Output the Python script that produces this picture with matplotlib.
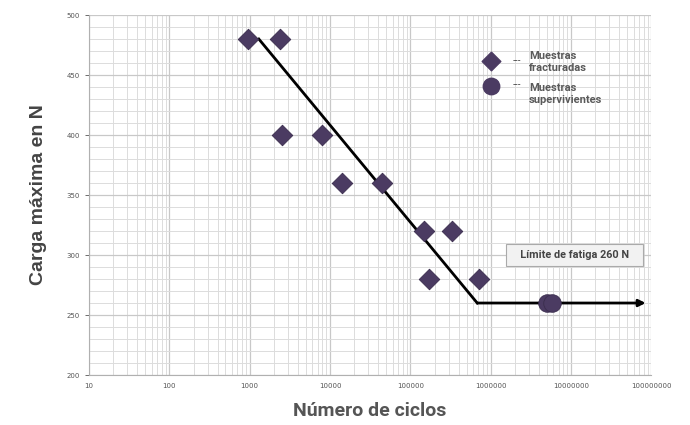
import matplotlib
matplotlib.use("Agg")
import matplotlib.pyplot as plt
import numpy as np
from matplotlib.ticker import LogLocator, FixedLocator, NullFormatter, FuncFormatter

# data
frac_cycles = [950, 2400, 2500, 8000, 14000, 44000, 150000, 330000, 170000, 720000]
frac_load = [480, 480, 400, 400, 360, 360, 320, 320, 280, 280]
surv_cycles = [5.0e6, 5.8e6]
surv_load = [260, 260]
curve_cycles = [1300, 680000, 8.5e7]
curve_load = [480, 260, 260]

xticks = [10, 100, 1000, 10000, 100000, 1000000, 10000000, 100000000]
yticks = [200, 250, 300, 350, 400, 450, 500]

fig = plt.figure(figsize=(6.9, 4.25), dpi=100)
ax = fig.add_axes([0.129, 0.1176, 0.815, 0.847])
ax.set_xscale('log')
ax.set_xlim(10, 1e8)
ax.set_ylim(200, 500)

ax.xaxis.set_major_locator(FixedLocator(xticks))
ax.xaxis.set_minor_locator(LogLocator(base=10, subs=np.arange(2, 10)))
ax.xaxis.set_minor_formatter(NullFormatter())
ax.xaxis.set_major_formatter(FuncFormatter(lambda v, p: f"{int(round(v))}"))
ax.yaxis.set_major_locator(FixedLocator(yticks))
ax.yaxis.set_minor_locator(FixedLocator(np.arange(200, 501, 10)))

ax.grid(True, which='major', color='#c8c8c8', linewidth=0.9)
ax.grid(True, which='minor', color='#dcdcdc', linewidth=0.7)
ax.set_axisbelow(True)

for s in ['top', 'right']:
    ax.spines[s].set_visible(False)
ax.spines['left'].set_color('#b0b0b0')
ax.spines['bottom'].set_color('#b0b0b0')
ax.tick_params(axis='both', which='major', labelsize=5, colors='#555555', length=3, width=0.6)
ax.tick_params(axis='x', which='major', length=0, pad=6)
ax.tick_params(axis='both', which='minor', length=0)

# curve
ax.plot(curve_cycles[:2], curve_load[:2], color='black', linewidth=2.0, zorder=3)
ax.annotate('', xy=(curve_cycles[2], curve_load[2]), xytext=(curve_cycles[1], curve_load[1]),
            arrowprops=dict(arrowstyle='-|>', color='black', lw=2.0, mutation_scale=10,
                            shrinkA=0, shrinkB=0), zorder=3)

mc = '#4b3b62'
ax.scatter(frac_cycles, frac_load, marker='D', s=110, color=mc, edgecolors='#3a2d4d',
           linewidths=0.6, zorder=4)
ax.scatter(surv_cycles, surv_load, marker='o', s=160, color=mc, edgecolors='#3a2d4d',
           linewidths=0.6, zorder=4)

# legend
ax.scatter([1e6], [461.5], marker='D', s=90, color=mc, zorder=5)
ax.scatter([1e6], [441], marker='o', s=140, color=mc, zorder=5)
ax.text(1.9e6, 462, '---', fontsize=5, color='#555555', va='center', fontweight='bold')
ax.text(1.9e6, 441.5, '---', fontsize=5, color='#555555', va='center', fontweight='bold')
lt = dict(fontsize=8, color='#5a5a5a', va='center', fontweight='bold', family='Roboto')
ax.text(3.0e6, 466, 'Muestras', **lt)
ax.text(3.0e6, 456, 'fracturadas', **lt)
ax.text(3.0e6, 439.5, 'Muestras', **lt)
ax.text(3.0e6, 429.5, 'supervivientes', **lt)

ax.text(1.1e7, 300, '   Límite de fatiga 260 N   ', fontsize=7.8, color='#444444', va='center',
        ha='center', fontweight='bold', family='Roboto',
        bbox=dict(boxstyle='square,pad=0.55', facecolor='#f2f2f2', edgecolor='#aaaaaa',
                  linewidth=0.8))

ax.set_ylabel('Carga máxima en N', fontsize=14, fontweight='bold', color='#444444',
              family='Liberation Sans', labelpad=14)
ax.set_xlabel('Número de ciclos', fontsize=14, fontweight='bold', color='#555555',
              family='Roboto', labelpad=9)

fig.savefig('out.png', dpi=100)
